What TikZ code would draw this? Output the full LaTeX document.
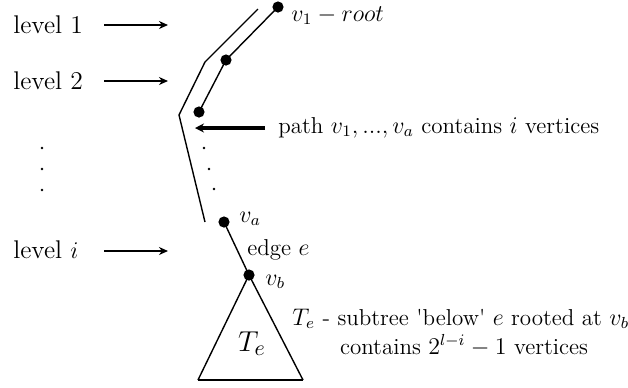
\documentclass[tikz,border=0pt]{standalone}
\usetikzlibrary{arrows.meta}
\begin{document}
\begin{tikzpicture}[x=0.5pt,y=-0.5pt,
  dot/.style={circle,fill=black,inner sep=0pt,minimum size=5.6pt},
  sdot/.style={circle,fill=black,inner sep=0pt,minimum size=1.4pt},
  lbl/.style={inner sep=0pt,font=\fontsize{11.5}{13}\selectfont},
  lvl/.style={inner sep=0pt,font=\fontsize{12.8}{15}\selectfont},
  ptr/.style={-{Stealth[length=4.5pt,width=4pt]},line width=0.95pt},
  bigptr/.style={-{Stealth[length=4.5pt,width=4.5pt]},line width=1.7pt},
  tline/.style={line width=0.7pt}]
\useasboundingbox (0,0) rectangle (628,387);

% level labels and arrows
\node[lvl,anchor=base west] (l1) at (13,33) {level 1};
\node[lvl,anchor=base west] (l2) at (13,89) {level 2};
\node[lvl,anchor=base west] (li) at (13,258) {level $i$};
\coordinate (l1s) at (104,25); \coordinate (l1e) at (168,25);
\coordinate (l2s) at (104,81); \coordinate (l2e) at (168,81);
\coordinate (lis) at (104,251); \coordinate (lie) at (168,251);
\draw[ptr] (l1s) -- (l1e);
\draw[ptr] (l2s) -- (l2e);
\draw[ptr] (lis) -- (lie);

% left vertical dots
\node[sdot] (ld1) at (42,148) {};
\node[sdot] (ld2) at (42,169) {};
\node[sdot] (ld3) at (42,190) {};

% path vertices
\node[dot] (v1) at (278,7) {};
\node[dot] (v2) at (226,60) {};
\node[dot] (v3) at (199,112) {};
\node[dot] (va) at (224,222) {};
\node[dot] (vb) at (249,275) {};
\draw[tline] (v1.center) -- (v2.center) -- (v3.center);
\draw[tline] (va.center) -- (vb.center);

% path dots
\node[sdot] (pd1) at (204,148) {};
\node[sdot] (pd2) at (209,169) {};
\node[sdot] (pd3) at (214,189) {};

% outer outline of the path
\coordinate (o1) at (258,9);
\coordinate (o2) at (205,62);
\coordinate (o3) at (179,115);
\coordinate (o4) at (205,222);
\draw[tline] (o1) -- (o2) -- (o3) -- (o4);

% subtree triangle
\coordinate (tl) at (198,380);
\coordinate (tr) at (303,380);
\draw[tline] (tl) -- (vb.center) -- (tr);
\draw[line width=1.4pt] (tl) -- (tr);
\node[inner sep=0pt,anchor=base,font=\fontsize{15}{18}\selectfont] (te) at (252,351) {$T_e$};

% labels
\node[lbl,anchor=base west] (v1l) at (291,21) {$v_1 - root$};
\node[lbl,anchor=base west] (val) at (239,222) {$v_a$};
\node[lbl,anchor=base west] (vbl) at (265,285) {$v_b$};
\node[lbl,anchor=base west] (el) at (247,255) {edge $e$};

% path annotation
\coordinate (pas) at (265,128);
\coordinate (pae) at (195,128);
\draw[bigptr] (pas) -- (pae);
\node[lbl,anchor=base west] (pt) at (278,133) {path $v_1, ..., v_a$ contains $i$ vertices};

% subtree annotation
\node[lbl,anchor=base west] (t1) at (292,325) {$T_e$ - subtree \textquotesingle below\textquotesingle\ $e$ rooted at $v_b$};
\node[lbl,anchor=base] (t2) at (464,354) {contains $2^{l-i}-1$ vertices};
\end{tikzpicture}
\end{document}
